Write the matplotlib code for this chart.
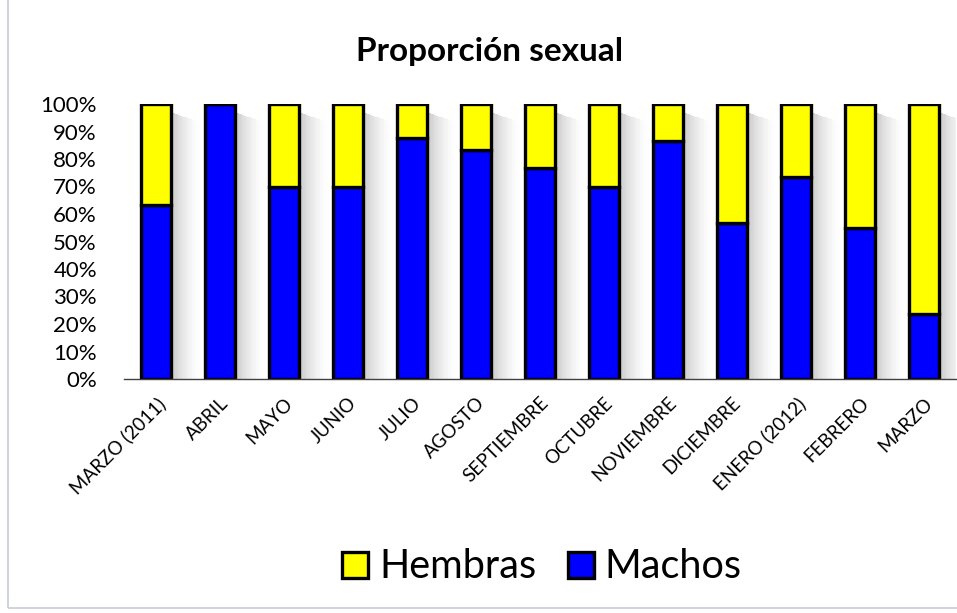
import matplotlib
matplotlib.use("Agg")
import matplotlib.pyplot as plt
import numpy as np
from matplotlib.patches import Rectangle

categories = ["MARZO (2011)", "ABRIL", "MAYO", "JUNIO", "JULIO", "AGOSTO",
              "SEPTIEMBRE", "OCTUBRE", "NOVIEMBRE", "DICIEMBRE",
              "ENERO (2012)", "FEBRERO", "MARZO"]
machos = [63.3, 100.0, 70.0, 70.0, 87.5, 83.3, 76.7, 70.0, 86.7, 56.7, 73.5, 54.8, 23.5]
hembras = [100 - m for m in machos]
ytick_labels = [f"{v}%" for v in range(0, 101, 10)]

plt.rcParams['font.family'] = ['Lato', 'DejaVu Sans']

fig = plt.figure(figsize=(9.57, 6.13), dpi=100)
ax = fig.add_axes([124/957, 1 - 379/613, 832/957, 275/613])

x = np.arange(len(categories))
m = np.array(machos) / 100
h = np.array(hembras) / 100
w = 0.48

# soft shadow (gradient to the right of each bar)
N = 18
step = 0.026
for k in range(N):
    a = 0.22 * (1 - k / N) ** 1.6
    ax.bar(x + w / 2 - 0.02 + k * step, m + h - 0.03 - 0.002 * k, width=step,
           align='edge', color='black', alpha=a, linewidth=0, zorder=1)

ax.bar(x, m, width=w, color='#0000FF', edgecolor='black', linewidth=2.4,
       label='Machos', zorder=3)
ax.bar(x, h, width=w, bottom=m, color='#FFFF00', edgecolor='black', linewidth=2.4,
       label='Hembras', zorder=3)

ax.set_xlim(-0.5, len(categories) - 0.5)
ax.set_ylim(0, 1)
ax.set_yticks(np.linspace(0, 1, 11))
ax.set_yticklabels(ytick_labels, fontsize=16)
ax.set_xticks(x)
ax.set_xticklabels(categories, rotation=45, ha='right', rotation_mode='anchor',
                   fontsize=13.5)
ax.tick_params(axis='both', length=0)
ax.tick_params(axis='y', pad=19.5)
ax.tick_params(axis='x', pad=11)
for s in ['top', 'right', 'left']:
    ax.spines[s].set_visible(False)
ax.spines['bottom'].set_color('#404040')
ax.spines['bottom'].set_linewidth(1.0)
ax.spines['bottom'].set_zorder(4)

fig.text(490/957, 1 - 52/613, "Proporción sexual", ha='center', va='center',
         fontsize=24, fontweight='bold')

handles, labels = ax.get_legend_handles_labels()
leg = fig.legend(handles[::-1], labels[::-1], loc='center',
                 bbox_to_anchor=(542/957, 1 - 567/613), ncol=2, frameon=False,
                 fontsize=28.5, handlelength=0.66, handleheight=0.63,
                 handletextpad=0.28, columnspacing=0.78)

fig.patches.append(Rectangle((8/957, 5/613), 1.2, 1.2, transform=fig.transFigure,
                             fill=False, edgecolor='#C8CCD8', linewidth=1.2))

fig.savefig("out.png", dpi=100)
